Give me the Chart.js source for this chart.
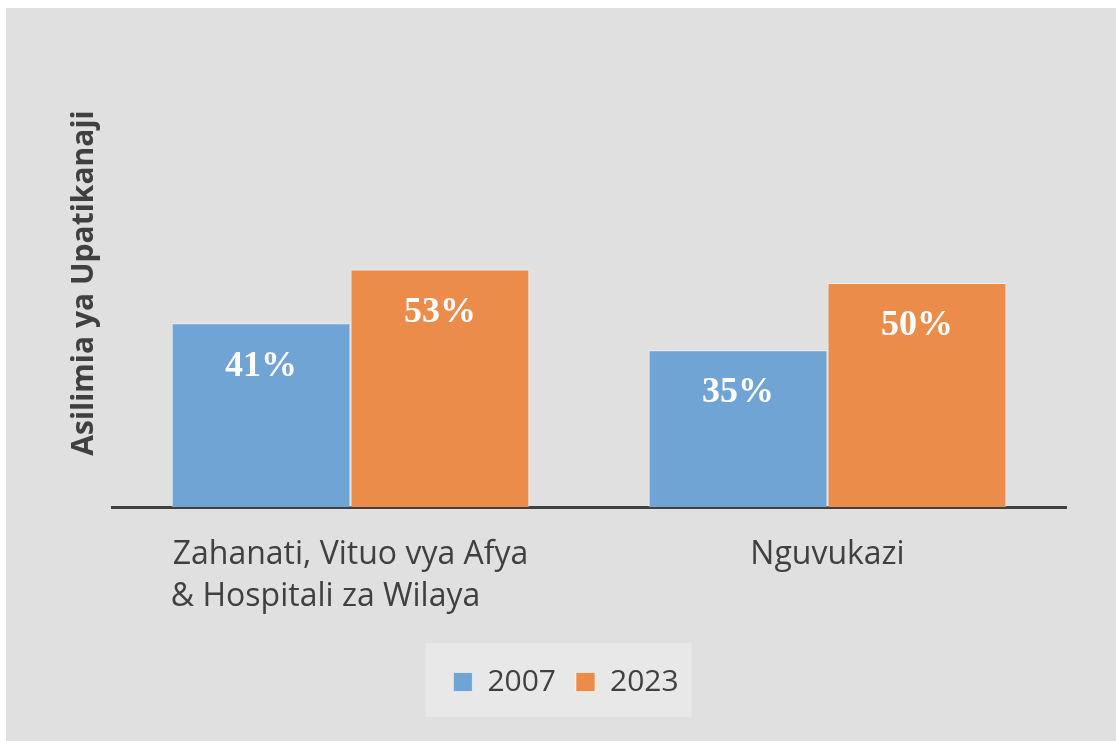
<!DOCTYPE html>
<html>
<head>
<meta charset="utf-8">
<script src="https://cdn.jsdelivr.net/npm/chart.js@4"></script>
<style>
  html, body { margin: 0; padding: 0; background: #ffffff; }
  #wrap { width: 1116px; height: 741px; }
</style>
</head>
<body>
<div id="wrap"><canvas id="chart" width="1116" height="741"></canvas></div>
<script>
const categories = [
    ["Zahanati, Vituo vya Afya", "& Hospitali za Wilaya      "],
    "Nguvukazi",
];
const series_names = ["2007", "2023"];
const values_2007 = [41, 35];
const values_2023 = [53, 50];
const series_colors = ["#6fa4d5", "#ec8c4b"];

// background panel and the legend box behind the items
const panelPlugin = {
    id: "panel",
    beforeDraw(chart) {
        const ctx = chart.ctx;
        ctx.save();
        ctx.fillStyle = "#ffffff";
        ctx.fillRect(0, 0, chart.width, chart.height);
        ctx.fillStyle = "#dfe0df";
        ctx.fillRect(6, 8, chart.width - 6, chart.height - 8);
        const boxes = chart.legend.legendHitBoxes;
        if (boxes && boxes.length) {
            const left = Math.min(...boxes.map((b) => b.left));
            const right = Math.max(...boxes.map((b) => b.left + b.width));
            const top = boxes[0].top;
            ctx.fillStyle = "#e7e8e7";
            ctx.fillRect(left - 28, top - 24, right - left + 41, 74);
        }
        ctx.restore();
    },
};

// value labels inside the top of each bar
const valueLabels = {
    id: "valueLabels",
    afterDatasetsDraw(chart) {
        const ctx = chart.ctx;
        ctx.save();
        ctx.font = "bold 36px 'Liberation Serif', 'Times New Roman', serif";
        ctx.fillStyle = "#ffffff";
        ctx.textAlign = "center";
        ctx.textBaseline = "middle";
        chart.data.datasets.forEach((ds, i) => {
            chart.getDatasetMeta(i).data.forEach((bar, j) => {
                ctx.fillText(ds.data[j] + "%", bar.x, bar.y + 43);
            });
        });
        ctx.restore();
    },
};

new Chart(document.getElementById("chart"), {
    type: "bar",
    data: {
        labels: categories,
        datasets: [
            {
                label: series_names[0],
                data: values_2007,
                backgroundColor: series_colors[0],
                borderColor: "rgba(255, 255, 255, 0.55)",
                borderWidth: 1,
            },
            {
                label: series_names[1],
                data: values_2023,
                backgroundColor: series_colors[1],
                borderColor: "rgba(255, 255, 255, 0.55)",
                borderWidth: 1,
            },
        ],
    },
    options: {
        responsive: false,
        animation: false,
        devicePixelRatio: 1,
        categoryPercentage: 0.75,
        barPercentage: 1.0,
        layout: {
            padding: { left: 66, right: 50, top: 59, bottom: 34 },
        },
        plugins: {
            legend: {
                position: "bottom",
                labels: {
                    boxWidth: 19,
                    boxHeight: 19,
                    padding: 20,
                    color: "#404040",
                    font: { family: "'Open Sans', sans-serif", size: 30 },
                },
            },
            tooltip: { enabled: false },
        },
        scales: {
            x: {
                grid: { display: false, drawTicks: false },
                border: { display: true, color: "#404040", width: 3 },
                ticks: {
                    color: "#404040",
                    padding: 27,
                    maxRotation: 0,
                    autoSkip: false,
                    font: { family: "'Open Sans', sans-serif", size: 32, lineHeight: 1.32 },
                },
                afterFit(scale) {
                    scale.height = 140;
                },
            },
            y: {
                min: 0,
                max: 100,
                grid: { display: false, drawTicks: false },
                border: { display: false },
                ticks: { display: false },
                title: {
                    display: true,
                    text: "Asilimia ya Upatikanaji",
                    color: "#404040",
                    padding: { top: 0, bottom: 10 },
                    font: { family: "'Open Sans', sans-serif", size: 30, weight: "bold", lineHeight: 1.2 },
                },
            },
        },
    },
    plugins: [panelPlugin, valueLabels],
});
</script>
</body>
</html>
